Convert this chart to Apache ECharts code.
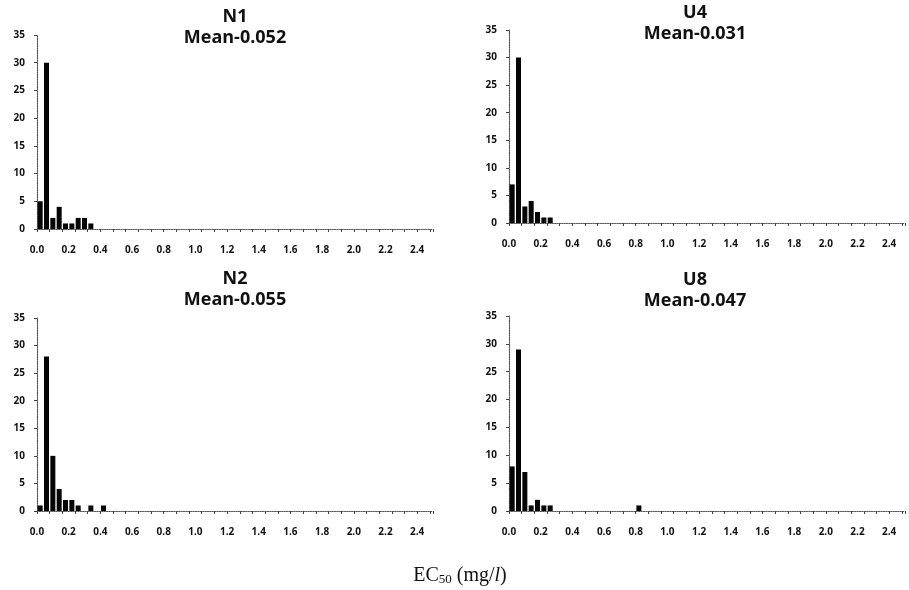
<!DOCTYPE html>
<html lang="en">
<head>
<meta charset="UTF-8">
<title>EC50 histograms</title>
<script src="https://cdn.jsdelivr.net/npm/echarts@6/dist/echarts.min.js"></script>
<style>
  html, body { margin: 0; padding: 0; background: #fff; }
  #main { width: 909px; height: 590px; }
</style>
</head>
<body>
<div id="main"></div>
<script>
// bin width of the histogram (mg/l); counts start at bin 0.00-0.04
var binWidth = 0.04;
var panelNames = ['N1', 'U4', 'N2', 'U8'];
var panelMeans = ['Mean-0.052', 'Mean-0.031', 'Mean-0.055', 'Mean-0.047'];
var countsN1 = [5, 30, 2, 4, 1, 1, 2, 2, 1];
var countsU4 = [7, 30, 3, 4, 2, 1, 1];
var countsN2 = [1, 28, 10, 4, 2, 2, 1, 0, 1, 0, 1];
var countsU8 = [8, 29, 7, 1, 2, 1, 1, 0, 0, 0, 0, 0, 0, 0, 0, 0, 0, 0, 0, 0, 1];
var yTicks = [0, 5, 10, 15, 20, 25, 30, 35];
var xMax = 2.5;

var allCounts = [countsN1, countsU4, countsN2, countsU8];

// plot boxes: [left, top, width, height]
var boxes = [
  [37, 35, 396, 194],
  [509, 30, 396, 193],
  [37, 318, 396, 193],
  [509, 316, 396, 195]
];
var titlePos = [[230, 1], [690, -3], [230, 263], [690, 264]];

var grids = [], xAxes = [], yAxes = [], series = [], titles = [];

boxes.forEach(function (b, i) {
  grids.push({ left: b[0], top: b[1], width: b[2], height: b[3] });
  // main x axis with labels
  xAxes.push({
    type: 'value', gridIndex: i, position: 'bottom', min: 0, max: xMax, interval: 0.2,
    axisLine: { show: true, lineStyle: { color: '#555', type: 'dotted', width: 1.2 } },
    axisTick: { show: false },
    splitLine: { show: false },
    axisLabel: {
      showMaxLabel: false, margin: 16, color: '#111', fontSize: 10,
      fontFamily: 'Open Sans', fontWeight: 'bold',
      formatter: function (v) { return v.toFixed(1); }
    }
  });
  // tick-only x axis
  xAxes.push({
    type: 'value', gridIndex: i, position: 'bottom', min: 0, max: xMax, interval: 0.08,
    axisLine: { show: false },
    axisTick: { show: true, inside: false, length: 3, lineStyle: { color: '#444' } },
    axisLabel: { show: false },
    splitLine: { show: false }
  });
  yAxes.push({
    type: 'value', gridIndex: i, min: yTicks[0], max: yTicks[yTicks.length - 1], interval: 5,
    axisLine: { show: true, lineStyle: { color: '#555', type: 'dotted', width: 1.2 } },
    axisTick: { show: true, length: 3, lineStyle: { color: '#444' } },
    splitLine: { show: false },
    axisLabel: { margin: 12, color: '#111', fontSize: 10, fontFamily: 'Open Sans', fontWeight: 'bold' }
  });
  var data = allCounts[i].map(function (c, k) {
    return [(k + 0.5) * binWidth, c];
  }).filter(function (d) { return d[1] > 0; });
  series.push({
    type: 'bar', xAxisIndex: i * 2, yAxisIndex: i,
    barWidth: 5, itemStyle: { color: '#050505' },
    data: data
  });
  titles.push({
    text: panelNames[i] + '\n' + panelMeans[i],
    left: titlePos[i][0], top: titlePos[i][1], textAlign: 'center',
    textStyle: {
      fontFamily: 'Open Sans', fontWeight: 'bold', fontSize: 18, color: '#111', lineHeight: 21
    }
  });
});

titles.push({
  text: 'EC{sub|50} (mg/{it|l})',
  left: 455, top: 561, textAlign: 'center',
  textStyle: {
    fontFamily: 'Liberation Serif', fontWeight: 'normal', fontSize: 20, color: '#111',
    rich: {
      sub: { fontFamily: 'Liberation Serif', fontSize: 13, color: '#111', verticalAlign: 'bottom', padding: [7, 0, 0, 0] },
      it: { fontFamily: 'Liberation Serif', fontStyle: 'italic', fontSize: 20, color: '#111' }
    }
  }
});

var chart = echarts.init(document.getElementById('main'), null, { renderer: 'canvas' });
chart.setOption({
  animation: false,
  title: titles,
  grid: grids,
  xAxis: xAxes,
  yAxis: yAxes,
  series: series
});
</script>
</body>
</html>
